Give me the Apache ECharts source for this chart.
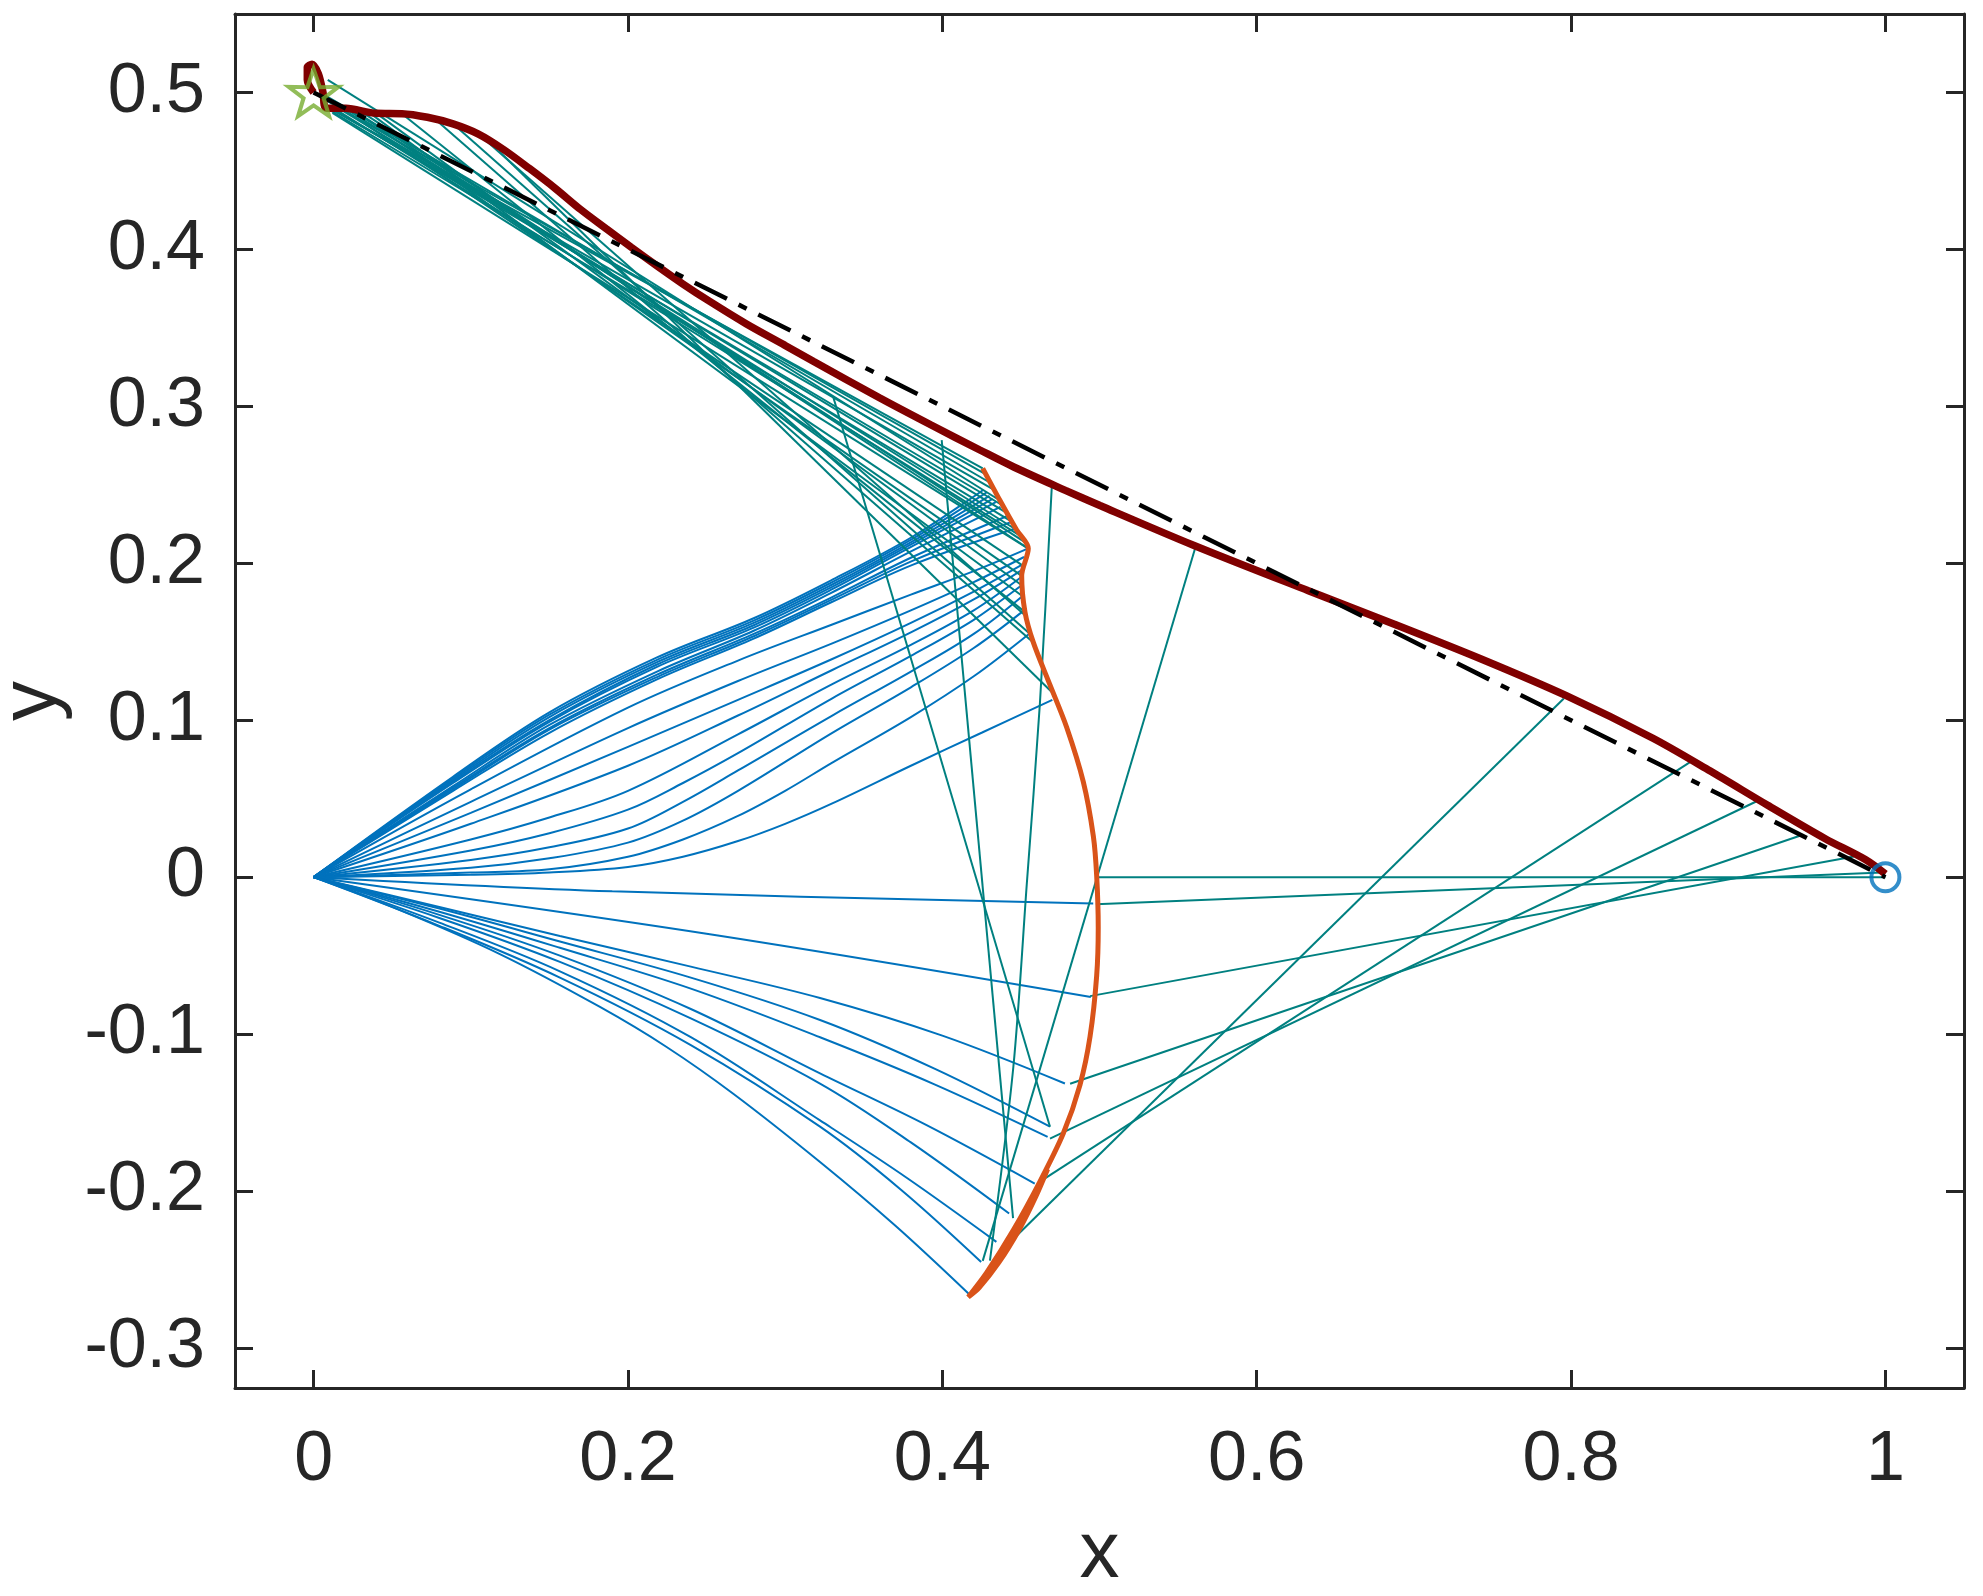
<!DOCTYPE html>
<html><head><meta charset="utf-8">
<script src="https://cdn.jsdelivr.net/npm/echarts@6/dist/echarts.min.js"></script>
<style>html,body{margin:0;padding:0;background:#fff;}#c{width:1983px;height:1596px;}</style>
</head><body><div id="c"></div>
<script>
const xTicks = [0, 0.2, 0.4, 0.6, 0.8, 1];
const yTicks = [-0.3, -0.2, -0.1, 0, 0.1, 0.2, 0.3, 0.4, 0.5];
const startPoint = [0, 0.5];
const endPoint = [1, 0];
const straightPath = [[0, 0.5], [1, 0]];

const redPath = [[0,0.5],[-0.004,0.508],[-0.004,0.516],[-0.001,0.518],[0.003,0.512],[0.006,0.5],[0.008,0.49],[0.0205,0.4899],[0.04,0.4867],[0.0562,0.4865],[0.0724,0.4842],[0.0887,0.48],[0.1049,0.4735],[0.1211,0.4635],[0.1374,0.4515],[0.1536,0.439],[0.1698,0.4255],[0.186,0.4133],[0.2023,0.4012],[0.2185,0.3895],[0.2348,0.3781],[0.251,0.3675],[0.2754,0.3525],[0.2997,0.339],[0.3179,0.3287],[0.3603,0.3053],[0.3929,0.2881],[0.4239,0.2722],[0.4458,0.2612],[0.4783,0.2465],[0.5003,0.2368],[0.5598,0.2115],[0.6329,0.1825],[0.6876,0.1612],[0.7424,0.1392],[0.7973,0.1155],[0.8521,0.0885],[0.8886,0.0676],[0.9251,0.0458],[0.9617,0.0245],[0.9872,0.0112],[1.0,0.002]];

const orangePath = [[0.4257,0.2605],[0.4367,0.240],[0.4473,0.2212],[0.4547,0.2094],[0.4505,0.192],[0.4526,0.1689],[0.4579,0.1496],[0.4685,0.1225],[0.4791,0.0955],[0.4897,0.0607],[0.4961,0.026],[0.4982,0.0009],[0.4992,-0.0319],[0.4982,-0.0628],[0.494,-0.1015],[0.4876,-0.1323],[0.477,-0.1632],[0.4621,-0.194],[0.4452,-0.2249],[0.4282,-0.252],[0.4165,-0.2675],[0.4235,-0.2615],[0.436,-0.2455],[0.4495,-0.2235],[0.4595,-0.2035],[0.467,-0.186]];

const blueUpper = [
 [[0,0],[0.0887,0.064],[0.15,0.105],[0.2185,0.140],[0.28,0.165],[0.329,0.189],[0.381,0.2169],[0.426,0.2467]],
 [[0,0],[0.0887,0.063],[0.15,0.1035],[0.2185,0.1385],[0.28,0.1635],[0.329,0.1875],[0.381,0.2155],[0.428,0.245]],
 [[0,0],[0.0887,0.062],[0.15,0.102],[0.2185,0.137],[0.28,0.162],[0.329,0.186],[0.381,0.214],[0.430,0.243]],
 [[0,0],[0.0887,0.061],[0.15,0.100],[0.2185,0.1355],[0.28,0.1605],[0.329,0.1845],[0.381,0.2125],[0.432,0.241]],
 [[0,0],[0.0887,0.060],[0.15,0.099],[0.2185,0.134],[0.28,0.159],[0.329,0.183],[0.381,0.211],[0.434,0.239]],
 [[0,0],[0.0887,0.058],[0.15,0.097],[0.2185,0.131],[0.28,0.157],[0.329,0.181],[0.381,0.208],[0.437,0.236]],
 [[0,0],[0.0887,0.057],[0.15,0.095],[0.2185,0.129],[0.28,0.155],[0.329,0.178],[0.381,0.204],[0.441,0.230]],
 [[0,0],[0.0887,0.056],[0.15,0.094],[0.2185,0.1275],[0.28,0.1535],[0.329,0.1765],[0.381,0.2015],[0.443,0.226]],
 [[0,0],[0.0887,0.055],[0.15,0.092],[0.2185,0.126],[0.28,0.152],[0.329,0.175],[0.381,0.199],[0.446,0.222]],
 [[0,0],[0.1,0.056],[0.2,0.108],[0.27,0.138],[0.33,0.161],[0.38,0.18],[0.42,0.195],[0.4547,0.2095]],
 [[0,0],[0.1,0.048],[0.2,0.095],[0.27,0.125],[0.33,0.149],[0.38,0.17],[0.42,0.188],[0.452,0.204]],
 [[0,0],[0.1,0.041],[0.2,0.083],[0.27,0.113],[0.33,0.139],[0.38,0.162],[0.42,0.182],[0.4505,0.199]],
 [[0,0],[0.1,0.034],[0.2,0.071],[0.27,0.103],[0.33,0.132],[0.38,0.156],[0.42,0.177],[0.4505,0.1957]],
 [[0,0],[0.1,0.024],[0.15,0.038],[0.2,0.055],[0.27,0.091],[0.33,0.123],[0.38,0.148],[0.42,0.17],[0.4505,0.1914]],
 [[0,0],[0.1,0.017],[0.15,0.028],[0.2,0.043],[0.235,0.06],[0.27,0.079],[0.33,0.114],[0.38,0.141],[0.42,0.164],[0.4505,0.186]],
 [[0,0],[0.1,0.011],[0.15,0.019],[0.2,0.031],[0.235,0.048],[0.27,0.068],[0.33,0.103],[0.38,0.131],[0.42,0.155],[0.4505,0.1787]],
 [[0,0],[0.1,0.006],[0.15,0.012],[0.2,0.022],[0.235,0.036],[0.27,0.055],[0.33,0.092],[0.38,0.121],[0.42,0.146],[0.452,0.170]],
 [[0,0],[0.1,0.003],[0.15,0.005],[0.2,0.013],[0.235,0.024],[0.27,0.039],[0.3,0.055],[0.33,0.073],[0.38,0.102],[0.42,0.128],[0.4555,0.1553]],
 [[0,0],[0.1,0.0015],[0.15,0.003],[0.2,0.0065],[0.235,0.013],[0.27,0.023],[0.3,0.034],[0.33,0.047],[0.38,0.071],[0.425,0.092],[0.47,0.113]]
];

const blueLower = [
 [[0,0],[0.19,-0.009],[0.496,-0.0168]],
 [[0,0],[0.25,-0.036],[0.4945,-0.0763]],
 [[0,0],[0.08,-0.019],[0.1567,-0.0375],[0.24,-0.057],[0.3222,-0.077],[0.40,-0.101],[0.478,-0.1315]],
 [[0,0],[0.08,-0.02],[0.1567,-0.041],[0.24,-0.064],[0.3222,-0.091],[0.395,-0.122],[0.4685,-0.159]],
 [[0,0],[0.08,-0.022],[0.1567,-0.045],[0.24,-0.071],[0.3222,-0.102],[0.395,-0.132],[0.467,-0.1655]],
 [[0,0],[0.08,-0.024],[0.1567,-0.050],[0.24,-0.084],[0.3222,-0.125],[0.39,-0.158],[0.4588,-0.1952]],
 [[0,0],[0.08,-0.026],[0.1567,-0.054],[0.24,-0.09],[0.3222,-0.1315],[0.38,-0.169],[0.4425,-0.2143]],
 [[0,0],[0.08,-0.029],[0.1567,-0.060],[0.24,-0.102],[0.3222,-0.155],[0.378,-0.192],[0.4344,-0.2324]],
 [[0,0],[0.08,-0.031],[0.1567,-0.064],[0.24,-0.107],[0.3222,-0.159],[0.3735,-0.199],[0.4247,-0.2452]],
 [[0,0],[0.0549,-0.021],[0.1185,-0.049],[0.1822,-0.0827],[0.2246,-0.1082],[0.267,-0.138],[0.3222,-0.1815],[0.37,-0.222],[0.4166,-0.2653]]
];

const tealUpLeft = [
 [[0.4367,0.240],[0.009,0.508]],
 [[0.4257,0.2605],[0.010,0.490]],
 [[0.428,0.2565],[0.006,0.496]],
 [[0.431,0.251],[0.004,0.500]],
 [[0.4335,0.2465],[0.007,0.492]],
 [[0.439,0.2365],[0.012,0.4895]],
 [[0.442,0.2315],[0.016,0.4898]],
 [[0.4447,0.2262],[0.010,0.489]],
 [[0.4473,0.2212],[0.020,0.4899]],
 [[0.4497,0.2175],[0.014,0.4893]],
 [[0.452,0.2138],[0.025,0.489]],
 [[0.4547,0.2094],[0.012,0.487]],
 [[0.4547,0.2094],[0.030,0.488]],
 [[0.4505,0.199],[0.018,0.4899]],
 [[0.4505,0.192],[0.025,0.489]],
 [[0.4505,0.186],[0.040,0.4867]],
 [[0.4515,0.1787],[0.035,0.4875]],
 [[0.4526,0.1689],[0.0562,0.4865]],
 [[0.4555,0.1553],[0.0887,0.480]],
 [[0.4579,0.1496],[0.079,0.4815]],
 [[0.4537,0.166],[0.1049,0.4735]],
 [[0.4706,0.117],[0.118,0.4625]]
];

const tealVertical = [
 [[0.4303,-0.2443],[0.4452,-0.1208],[0.4537,-0.0049],[0.4621,0.1109],[0.4696,0.248]],
 [[0.445,-0.2173],[0.3996,0.2785]],
 [[0.4685,-0.159],[0.3306,0.306]],
 [[0.4257,-0.2445],[0.5608,0.2094]]
];

const tealRight = [
 [[0.499,0],[1,0]],
 [[0.4977,-0.0173],[0.998,0.003]],
 [[0.494,-0.0758],[0.98,0.0132]],
 [[0.4813,-0.1316],[0.947,0.0269]],
 [[0.4685,-0.1666],[0.9178,0.0482]],
 [[0.4621,-0.194],[0.8757,0.0733]],
 [[0.445,-0.2307],[0.7954,0.1138]]
];

const C_BLUE = '#0072BD', C_TEAL = '#008080', C_RED = '#800000', C_ORANGE = '#D95319', C_GREEN = '#77AC30', C_AX = '#262626';
const FONT = "'Liberation Sans', Arial, Helvetica, sans-serif";

function lineSeries(paths, color, width, smooth, z) {
  return paths.map(p => ({
    type: 'line', data: p, showSymbol: false, symbol: 'none', smooth: smooth,
    lineStyle: { color: color, width: width }, z: z, silent: true, animation: false
  }));
}

const series = [].concat(
  lineSeries(blueUpper, C_BLUE, 2, 0.35, 2),
  lineSeries(blueLower, C_BLUE, 2, 0.35, 2),
  lineSeries(tealUpLeft, C_TEAL, 2, false, 3),
  lineSeries(tealVertical, C_TEAL, 2, 0.3, 3),
  lineSeries(tealRight, C_TEAL, 2, false, 3),
  lineSeries([orangePath], C_ORANGE, 5, 0.3, 4),
  lineSeries([redPath], C_RED, 7.5, 0.3, 5),
  [{
    type: 'line', data: straightPath, showSymbol: false, symbol: 'none',
    lineStyle: { color: '#000', width: 4.5, type: [36, 13, 9, 13] }, z: 6, silent: true, animation: false
  },
  {
    type: 'scatter', data: [startPoint], z: 7, animation: false, silent: true,
    symbol: 'path://M50,0 L61.8,35.1 L97.6,34.5 L69.1,56.2 L79.4,90.5 L50,70 L20.6,90.5 L30.9,56.2 L2.4,34.5 L38.2,35.1 Z',
    symbolSize: [50, 47],
    itemStyle: { color: 'rgba(0,0,0,0)', borderColor: C_GREEN, borderWidth: 4 }
  },
  {
    type: 'scatter', data: [endPoint], z: 7, animation: false, silent: true,
    symbol: 'circle', symbolSize: 28,
    itemStyle: { color: 'rgba(0,0,0,0)', borderColor: C_BLUE, borderWidth: 4 }
  }]
);

function axisCommon(ticks, showLabel) {
  return {
    axisLine: { show: true, onZero: false, lineStyle: { color: C_AX, width: 3 } },
    axisTick: { show: true, inside: true, length: 18, customValues: ticks, lineStyle: { color: C_AX, width: 3 } },
    axisLabel: { show: showLabel, customValues: ticks, fontSize: 70, color: C_AX, fontFamily: FONT, showMinLabel: true, showMaxLabel: true },
    splitLine: { show: false }
  };
}

const xBottom = Object.assign({ type: 'value', min: -0.05, max: 1.05, position: 'bottom',
  name: 'x', nameLocation: 'middle', nameGap: 127,
  nameTextStyle: { fontSize: 80, color: C_AX, fontFamily: FONT } }, axisCommon(xTicks, true));
xBottom.axisLabel.margin = 38;
const xTop = Object.assign({ type: 'value', min: -0.05, max: 1.05, position: 'top' }, axisCommon(xTicks, false));
const yLeft = Object.assign({ type: 'value', min: -0.3255, max: 0.55, position: 'left',
  name: 'y', nameLocation: 'middle', nameGap: 162,
  nameTextStyle: { fontSize: 80, color: C_AX, fontFamily: FONT } }, axisCommon(yTicks, true));
yLeft.axisLabel.margin = 30;
const yRight = Object.assign({ type: 'value', min: -0.3255, max: 0.55, position: 'right' }, axisCommon(yTicks, false));

series.forEach(s => { s.xAxisIndex = 0; s.yAxisIndex = 0; });

const chart = echarts.init(document.getElementById('c'), null, { renderer: 'canvas' });
chart.setOption({
  backgroundColor: '#ffffff',
  animation: false,
  grid: { left: 235, right: 19, top: 14, bottom: 208, containLabel: false, outerBoundsMode: 'none' },
  xAxis: [xBottom, xTop],
  yAxis: [yLeft, yRight],
  series: series
});
</script>
</body></html>
